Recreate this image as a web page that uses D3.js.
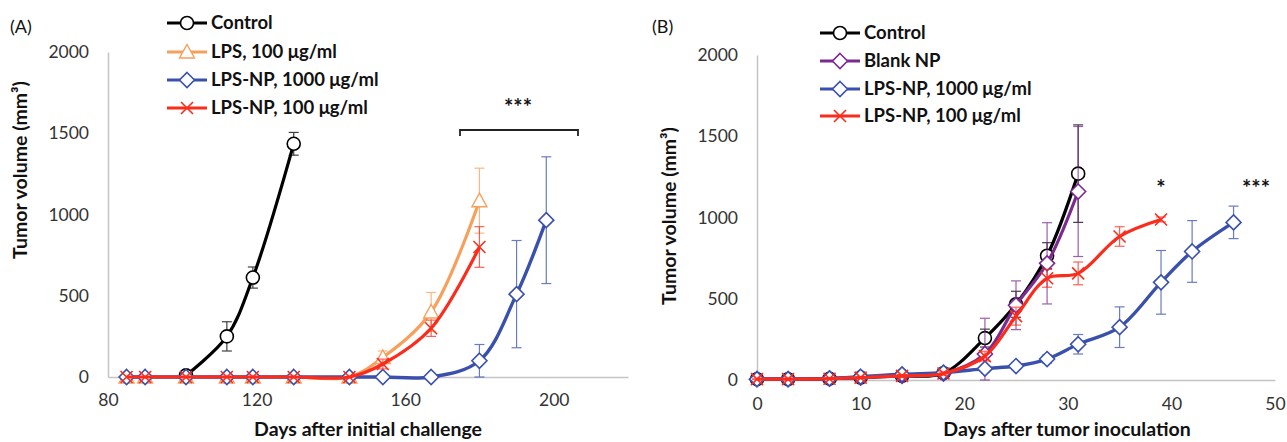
<!DOCTYPE html>
<html><head><meta charset="utf-8">
<script src="https://cdn.jsdelivr.net/npm/d3@7"></script>
<style>
body{margin:0;background:#fff;}
svg{display:block;font-family:Lato,"Open Sans",sans-serif;}
</style></head>
<body><svg id="c" width="1287" height="442"></svg>
<script>
// ---------- Panel A data ----------
const aDaysControl = [101,112,119,130];
const aControl     = [10,250,612,1435];
const aControlErr  = [5,90,65,70];
const aDaysLPS     = [85,90,101,112,119,130,145,154,167,180];
const aLPS         = [0,0,0,0,0,0,0,120,400,1085];
const aLPSErr      = [0,0,0,0,0,0,0,40,120,200];
const aLPSNP100    = [0,0,0,0,0,0,0,80,300,800];
const aLPSNP100Err = [0,0,0,0,0,0,0,30,50,125];
const aDaysNP1000  = [85,90,101,112,119,130,145,154,167,180,190,198];
const aNP1000      = [0,0,0,0,0,0,0,0,0,100,510,965];
const aNP1000Err   = [0,0,0,0,0,0,0,0,0,100,330,390];
const aXTicks = [80,120,160,200];
const aYTicks = [0,500,1000,1500,2000];

// ---------- Panel B data ----------
const bDaysCtrl    = [0,3,7,10,14,18,22,25,28,31];
const bControl     = [5,5,8,15,25,42,258,466,765,1270];
const bControlErr  = [2,2,3,5,8,10,55,80,80,300];
const bBlank       = [5,5,8,15,25,40,160,460,718,1160];
const bBlankErr    = [2,2,3,5,8,10,220,150,250,400];
const bDaysNP1000  = [0,3,7,10,14,18,22,25,28,31,35,39,42,46];
const bNP1000      = [5,5,10,20,35,45,70,86,129,220,325,601,791,970];
const bNP1000Err   = [2,2,3,5,8,10,15,20,25,60,125,196,190,100];
const bDaysNP100   = [0,3,7,10,14,18,22,25,28,31,35,39];
const bNP100       = [5,5,8,15,25,40,147,393,626,656,883,988];
const bNP100Err    = [2,2,3,5,8,10,30,55,55,70,60,15];
const bXTicks = [0,10,20,30,40,50];
const bYTicks = [0,500,1000,1500,2000];

const yTitle = "Tumor volume (mm³)";

const COL = {black:"#000000", orange:"#f7a05c", blue:"#3a50ad", red:"#fb2c1c", purple:"#7b2a90"};

const svg = d3.select("#c");

function markerPath(g, type, x, y, color){
  if(type==="circle"){
    g.append("circle").attr("cx",x).attr("cy",y).attr("r",6.5)
      .attr("fill","#fff").attr("stroke",color).attr("stroke-width",1.6);
  } else if(type==="diamond"){
    const s=7.5;
    g.append("path").attr("d",`M${x},${y-s}L${x+s},${y}L${x},${y+s}L${x-s},${y}Z`)
      .attr("fill","#fff").attr("stroke",color).attr("stroke-width",1.6);
  } else if(type==="triangle"){
    const s=7.5;
    g.append("path").attr("d",`M${x},${y-s}L${x+s},${y+s*0.8}L${x-s},${y+s*0.8}Z`)
      .attr("fill","#fff").attr("stroke",color).attr("stroke-width",1.4);
  } else if(type==="x"){
    const s=6;
    g.append("path").attr("d",`M${x-s},${y-s}L${x+s},${y+s}M${x-s},${y+s}L${x+s},${y-s}`)
      .attr("fill","none").attr("stroke",color).attr("stroke-width",1.6);
  }
}

function drawSeries(g, x, y, days, vals, errs, color, type, lw){
  const pts = days.map((d,i)=>({d, v:vals[i], e:errs[i]}));
  const eg = g.append("g").attr("stroke",color).attr("stroke-width",1.2).attr("opacity",0.75);
  pts.forEach(p=>{
    if(p.e>0){
      const cx=x(p.d), y1=y(p.v+p.e), y2=y(Math.max(0,p.v-p.e));
      eg.append("line").attr("x1",cx).attr("x2",cx).attr("y1",y1).attr("y2",y2);
      eg.append("line").attr("x1",cx-5).attr("x2",cx+5).attr("y1",y1).attr("y2",y1);
      eg.append("line").attr("x1",cx-5).attr("x2",cx+5).attr("y1",y2).attr("y2",y2);
    }
  });
  const line = d3.line().x(p=>x(p.d)).y(p=>y(p.v)).curve(d3.curveCatmullRom.alpha(0.5));
  g.append("path").datum(pts).attr("d",line).attr("fill","none")
    .attr("stroke",color).attr("stroke-width",lw);
  const mg = g.append("g");
  pts.forEach(p=>markerPath(mg,type,x(p.d),y(p.v),color));
}

function drawAxes(g, x, y, xTicks, yTicks, xPad){
  const ya = d3.axisLeft(y).tickValues(yTicks).tickSize(0).tickSizeOuter(0).tickPadding(19).tickFormat(d3.format("d"));
  const yg = g.append("g").attr("transform",`translate(${x.range()[0]},0)`).call(ya);
  const xa = d3.axisBottom(x).tickValues(xTicks).tickSize(0).tickSizeOuter(0).tickPadding(xPad).tickFormat(d3.format("d"));
  const xg = g.append("g").attr("transform",`translate(0,${y(0)})`).call(xa);
  [yg,xg].forEach(a=>{
    a.select(".domain").attr("stroke","#c4c4c4").attr("stroke-width",1.5);
    a.selectAll("text").attr("font-size",17.5).attr("fill","#333").attr("font-family","Lato,'Open Sans',sans-serif");
  });
}

function legend(g, x0, rows){
  rows.forEach(r=>{
    g.append("line").attr("x1",x0).attr("x2",x0+40).attr("y1",r.y).attr("y2",r.y)
      .attr("stroke",r.color).attr("stroke-width",3);
    markerPath(g, r.type, x0+20, r.y, r.color);
    g.append("text").attr("x",x0+44).attr("y",r.y).attr("dy","0.35em")
      .attr("font-size",18.5).attr("font-weight","bold").attr("fill","#111").text(r.label);
  });
}

function boldText(g, x, y, t, size){
  return g.append("text").attr("x",x).attr("y",y).attr("dy","0.35em").attr("text-anchor","middle")
    .attr("font-size",size).attr("font-weight","bold").attr("fill","#111").text(t);
}

// ---------- Panel A ----------
{
  const g = svg.append("g");
  const x = d3.scaleLinear().domain([80,220]).range([108,628]);
  const y = d3.scaleLinear().domain([0,2000]).range([377,52]);
  drawAxes(g,x,y,aXTicks,aYTicks,17);
  drawSeries(g,x,y,aDaysControl,aControl,aControlErr,COL.black,"circle",3.2);
  drawSeries(g,x,y,aDaysLPS,aLPS,aLPSErr,COL.orange,"triangle",3.2);
  drawSeries(g,x,y,aDaysNP1000,aNP1000,aNP1000Err,COL.blue,"diamond",3.4);
  drawSeries(g,x,y,aDaysLPS,aLPSNP100,aLPSNP100Err,COL.red,"x",3.2);
  g.append("text").attr("x",10).attr("y",27).attr("dy","0.35em").attr("font-size",18).attr("fill","#111").text("(A)");
  g.append("text").attr("transform",`translate(20,170) rotate(-90)`)
    .attr("text-anchor","middle").attr("dy","0.35em").attr("font-size",19.5).attr("font-weight","bold").attr("fill","#111").text(yTitle);
  boldText(g,368,429,"Days after initial challenge",19.5);
  g.append("path").attr("d","M460,136L460,130L578,130L578,136").attr("fill","none").attr("stroke","#222").attr("stroke-width",1.8);
  boldText(g,518,107,"***",22);
  legend(g,167,[
    {y:23,color:COL.black,type:"circle",label:"Control"},
    {y:52,color:COL.orange,type:"triangle",label:"LPS, 100 μg/ml"},
    {y:80,color:COL.blue,type:"diamond",label:"LPS-NP, 1000 μg/ml"},
    {y:108,color:COL.red,type:"x",label:"LPS-NP, 100 μg/ml"}
  ]);
}

// ---------- Panel B ----------
{
  const g = svg.append("g");
  const x = d3.scaleLinear().domain([0,50]).range([757,1275]);
  const y = d3.scaleLinear().domain([0,2000]).range([380,55]);
  drawAxes(g,x,y,bXTicks,bYTicks,18);
  drawSeries(g,x,y,bDaysCtrl,bControl,bControlErr,COL.black,"circle",3.2);
  drawSeries(g,x,y,bDaysCtrl,bBlank,bBlankErr,COL.purple,"diamond",3.2);
  drawSeries(g,x,y,bDaysNP1000,bNP1000,bNP1000Err,COL.blue,"diamond",3.4);
  drawSeries(g,x,y,bDaysNP100,bNP100,bNP100Err,COL.red,"x",3.2);
  g.append("text").attr("x",652).attr("y",27).attr("dy","0.35em").attr("font-size",18).attr("fill","#111").text("(B)");
  g.append("text").attr("transform",`translate(669,216) rotate(-90)`)
    .attr("text-anchor","middle").attr("dy","0.35em").attr("font-size",19.5).attr("font-weight","bold").attr("fill","#111").text(yTitle);
  boldText(g,1067,429,"Days after tumor inoculation",19.5);
  boldText(g,x(39),188,"*",22);
  boldText(g,1256,188,"***",22);
  legend(g,820,[
    {y:33,color:COL.black,type:"circle",label:"Control"},
    {y:61,color:COL.purple,type:"diamond",label:"Blank NP"},
    {y:89,color:COL.blue,type:"diamond",label:"LPS-NP, 1000 μg/ml"},
    {y:116,color:COL.red,type:"x",label:"LPS-NP, 100 μg/ml"}
  ]);
}
</script></body></html>
